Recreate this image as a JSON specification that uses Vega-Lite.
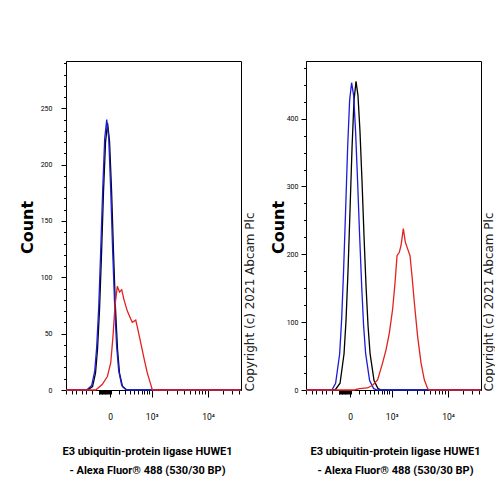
{
  "$schema": "https://vega.github.io/schema/vega-lite/v6.json",
  "padding": {"left": 18, "top": 58, "right": 0, "bottom": 0},
  "background": "white",
  "bounds": "flush",
  "spacing": 65,
  "config": {
    "view": {"stroke": "black", "strokeWidth": 1},
    "axis": {"grid": false, "domainColor": "black", "tickColor": "black", "labelColor": "black", "titleColor": "black", "labelOverlap": false, "labelFlush": false}
  },
  "datasets": {
    "d": [
      {"p": "L", "s": "k", "x": -1115, "y": 0}, {"p": "L", "s": "k", "x": -350, "y": 0}, {"p": "L", "s": "k", "x": -247, "y": 3}, {"p": "L", "s": "k", "x": -193, "y": 15}, {"p": "L", "s": "k", "x": -160, "y": 36}, {"p": "L", "s": "k", "x": -129, "y": 71}, {"p": "L", "s": "k", "x": -100, "y": 121}, {"p": "L", "s": "k", "x": -74, "y": 176}, {"p": "L", "s": "k", "x": -49, "y": 220}, {"p": "L", "s": "k", "x": -26, "y": 237}, {"p": "L", "s": "k", "x": -5, "y": 221}, {"p": "L", "s": "k", "x": 16, "y": 177}, {"p": "L", "s": "k", "x": 37.5, "y": 122}, {"p": "L", "s": "k", "x": 61, "y": 72}, {"p": "L", "s": "k", "x": 87, "y": 36}, {"p": "L", "s": "k", "x": 114, "y": 15}, {"p": "L", "s": "k", "x": 160, "y": 3}, {"p": "L", "s": "k", "x": 230, "y": 0}, {"p": "L", "s": "k", "x": 34750, "y": 0},
      {"p": "L", "s": "b", "x": -1115, "y": 0}, {"p": "L", "s": "b", "x": -372, "y": 0}, {"p": "L", "s": "b", "x": -263, "y": 4}, {"p": "L", "s": "b", "x": -206, "y": 17}, {"p": "L", "s": "b", "x": -173, "y": 38}, {"p": "L", "s": "b", "x": -141, "y": 73}, {"p": "L", "s": "b", "x": -112, "y": 123}, {"p": "L", "s": "b", "x": -84, "y": 178}, {"p": "L", "s": "b", "x": -59, "y": 223}, {"p": "L", "s": "b", "x": -35, "y": 240}, {"p": "L", "s": "b", "x": -13, "y": 223}, {"p": "L", "s": "b", "x": 7, "y": 178}, {"p": "L", "s": "b", "x": 28, "y": 123}, {"p": "L", "s": "b", "x": 52, "y": 73}, {"p": "L", "s": "b", "x": 76, "y": 38}, {"p": "L", "s": "b", "x": 103, "y": 17}, {"p": "L", "s": "b", "x": 147, "y": 4}, {"p": "L", "s": "b", "x": 232, "y": 0}, {"p": "L", "s": "b", "x": 34750, "y": 0},
      {"p": "L", "s": "r", "x": -1115, "y": 0}, {"p": "L", "s": "r", "x": -189, "y": 0}, {"p": "L", "s": "r", "x": -89, "y": 5}, {"p": "L", "s": "r", "x": -28, "y": 12}, {"p": "L", "s": "r", "x": 7, "y": 24}, {"p": "L", "s": "r", "x": 32, "y": 48}, {"p": "L", "s": "r", "x": 55, "y": 75}, {"p": "L", "s": "r", "x": 84, "y": 92}, {"p": "L", "s": "r", "x": 114, "y": 87}, {"p": "L", "s": "r", "x": 147, "y": 89}, {"p": "L", "s": "r", "x": 184, "y": 80}, {"p": "L", "s": "r", "x": 244, "y": 70}, {"p": "L", "s": "r", "x": 313, "y": 63}, {"p": "L", "s": "r", "x": 348, "y": 60}, {"p": "L", "s": "r", "x": 432, "y": 62}, {"p": "L", "s": "r", "x": 474, "y": 56}, {"p": "L", "s": "r", "x": 574, "y": 42}, {"p": "L", "s": "r", "x": 685, "y": 28}, {"p": "L", "s": "r", "x": 810, "y": 15}, {"p": "L", "s": "r", "x": 955, "y": 5}, {"p": "L", "s": "r", "x": 1029, "y": 0}, {"p": "L", "s": "r", "x": 34750, "y": 0},
      {"p": "R", "s": "k", "x": -1115, "y": 0}, {"p": "R", "s": "k", "x": -200, "y": 0}, {"p": "R", "s": "k", "x": -121, "y": 10}, {"p": "R", "s": "k", "x": -67.5, "y": 53}, {"p": "R", "s": "k", "x": -43, "y": 103}, {"p": "R", "s": "k", "x": -21, "y": 175}, {"p": "R", "s": "k", "x": 0, "y": 265}, {"p": "R", "s": "k", "x": 21, "y": 357}, {"p": "R", "s": "k", "x": 43, "y": 427}, {"p": "R", "s": "k", "x": 67.5, "y": 455}, {"p": "R", "s": "k", "x": 93, "y": 434}, {"p": "R", "s": "k", "x": 121, "y": 381}, {"p": "R", "s": "k", "x": 152, "y": 307}, {"p": "R", "s": "k", "x": 184, "y": 227}, {"p": "R", "s": "k", "x": 219, "y": 154}, {"p": "R", "s": "k", "x": 257, "y": 95}, {"p": "R", "s": "k", "x": 298, "y": 54}, {"p": "R", "s": "k", "x": 389, "y": 14}, {"p": "R", "s": "k", "x": 494, "y": 2}, {"p": "R", "s": "k", "x": 600, "y": 0}, {"p": "R", "s": "k", "x": 34750, "y": 0},
      {"p": "R", "s": "b", "x": -1115, "y": 0}, {"p": "R", "s": "b", "x": -260, "y": 0}, {"p": "R", "s": "b", "x": -191, "y": 10}, {"p": "R", "s": "b", "x": -127, "y": 53}, {"p": "R", "s": "b", "x": -99, "y": 103}, {"p": "R", "s": "b", "x": -73, "y": 175}, {"p": "R", "s": "b", "x": -48, "y": 265}, {"p": "R", "s": "b", "x": -25, "y": 357}, {"p": "R", "s": "b", "x": -4, "y": 427}, {"p": "R", "s": "b", "x": 16.5, "y": 453}, {"p": "R", "s": "b", "x": 39, "y": 434}, {"p": "R", "s": "b", "x": 62, "y": 381}, {"p": "R", "s": "b", "x": 88, "y": 307}, {"p": "R", "s": "b", "x": 116, "y": 227}, {"p": "R", "s": "b", "x": 146, "y": 154}, {"p": "R", "s": "b", "x": 177, "y": 95}, {"p": "R", "s": "b", "x": 212, "y": 54}, {"p": "R", "s": "b", "x": 289, "y": 14}, {"p": "R", "s": "b", "x": 379, "y": 2}, {"p": "R", "s": "b", "x": 480, "y": 0}, {"p": "R", "s": "b", "x": 34750, "y": 0},
      {"p": "R", "s": "r", "x": -1115, "y": 0}, {"p": "R", "s": "r", "x": 47, "y": 0}, {"p": "R", "s": "r", "x": 111, "y": 2}, {"p": "R", "s": "r", "x": 243, "y": 3}, {"p": "R", "s": "r", "x": 355, "y": 7}, {"p": "R", "s": "r", "x": 482, "y": 15}, {"p": "R", "s": "r", "x": 636, "y": 40}, {"p": "R", "s": "r", "x": 758, "y": 59}, {"p": "R", "s": "r", "x": 893, "y": 84}, {"p": "R", "s": "r", "x": 1044, "y": 119}, {"p": "R", "s": "r", "x": 1167, "y": 158}, {"p": "R", "s": "r", "x": 1278, "y": 198}, {"p": "R", "s": "r", "x": 1415, "y": 203}, {"p": "R", "s": "r", "x": 1524, "y": 213}, {"p": "R", "s": "r", "x": 1686, "y": 238}, {"p": "R", "s": "r", "x": 1836, "y": 218}, {"p": "R", "s": "r", "x": 2025, "y": 208}, {"p": "R", "s": "r", "x": 2238, "y": 198}, {"p": "R", "s": "r", "x": 2430, "y": 168}, {"p": "R", "s": "r", "x": 2673, "y": 129}, {"p": "R", "s": "r", "x": 3056, "y": 79}, {"p": "R", "s": "r", "x": 3502, "y": 40}, {"p": "R", "s": "r", "x": 3996, "y": 15}, {"p": "R", "s": "r", "x": 4555, "y": 2}, {"p": "R", "s": "r", "x": 4868, "y": 0}, {"p": "R", "s": "r", "x": 34750, "y": 0}
    ]
  },
  "hconcat": [
    {
      "width": 175, "height": 329,
      "data": {"name": "d"},
      "transform": [{"filter": "datum.p === 'L'"}],
      "encoding": {
        "x": {"field": "x", "type": "quantitative", "scale": {"type": "symlog", "constant": 270, "domain": [-1115, 34750], "nice": false, "zero": false},
          "axis": {"values": [-1100, -850, -670, -500, -380, -260, -140, -130, -120, -110, -100, -90, -80, -70, -60, -50, -40, -30, -20, -10, 0, 10, 100, 200, 300, 400, 500, 600, 700, 800, 900, 1000, 2000, 3000, 4000, 5000, 6000, 7000, 8000, 9000, 10000, 18000, 25000, 32000],
            "labelExpr": "datum.value == 0 ? '0' : datum.value == 1000 ? '10³' : datum.value == 10000 ? '10⁴' : ''",
            "tickSize": {"condition": {"test": "datum.value == 0 || datum.value == 1000 || datum.value == 10000", "value": 7}, "value": 4},
            "labelPadding": 15, "labelFont": "Roboto", "labelFontSize": 8.5,
            "title": ["E3 ubiquitin-protein ligase HUWE1", "- Alexa Fluor® 488 (530/30 BP)"],
            "titleFont": "Roboto", "titleFontSize": 11, "titleFontWeight": "bold", "titleLineHeight": 19,
            "titleBaseline": "top", "titleY": 55, "titleX": 81, "titleAlign": "center"}}
      },
      "layer": [
        {
          "transform": [{"filter": "datum.s === 'k'"}],
          "mark": {"type": "line", "color": "black", "strokeWidth": 1.3},
          "encoding": {
            "y": {"field": "y", "type": "quantitative", "scale": {"domain": [0, 292], "nice": false, "zero": false},
              "axis": {"orient": "left", "values": [0, 10, 20, 30, 40, 50, 60, 70, 80, 90, 100, 110, 120, 130, 140, 150, 160, 170, 180, 190, 200, 210, 220, 230, 240, 250, 260, 270, 280, 290],
                "labelExpr": "datum.value % 50 == 0 ? datum.label : ''",
                "tickSize": {"condition": {"test": "datum.value % 50 == 0", "value": 5}, "value": 2.5},
                "labelPadding": 9, "labelFont": "Roboto", "labelFontSize": 7,
                "title": "Count", "titleFont": "DejaVu Sans", "titleFontSize": 16, "titleFontWeight": "bold",
                "titleAngle": 270, "titleAlign": "center", "titleBaseline": "middle", "titleX": -39, "titleY": 166}}
          }
        },
        {
          "transform": [{"filter": "datum.s === 'b'"}],
          "mark": {"type": "line", "color": "#1c1cd6", "strokeWidth": 1.3},
          "encoding": {
            "y": {"field": "y", "type": "quantitative", "axis": null}
          }
        },
        {
          "transform": [{"filter": "datum.s === 'r'"}],
          "mark": {"type": "line", "color": "#e3211f", "strokeWidth": 1.3},
          "encoding": {
            "y": {"field": "y", "type": "quantitative",
              "axis": {"orient": "right", "title": "Copyright (c) 2021 Abcam Plc", "labels": false, "ticks": false, "domain": false,
                "titleAngle": 270, "titleAlign": "left", "titleBaseline": "middle", "titleX": 8, "titleY": 330,
                "titleFont": "DejaVu Sans", "titleFontSize": 12, "titleFontWeight": "normal", "titleColor": "#222222"}}
          }
        }
      ],
      "resolve": {"axis": {"y": "independent"}}
    },
    {
      "width": 175, "height": 329,
      "data": {"name": "d"},
      "transform": [{"filter": "datum.p === 'R'"}],
      "encoding": {
        "x": {"field": "x", "type": "quantitative", "scale": {"type": "symlog", "constant": 270, "domain": [-1115, 34750], "nice": false, "zero": false},
          "axis": {"values": [-1100, -850, -670, -500, -380, -260, -140, -130, -120, -110, -100, -90, -80, -70, -60, -50, -40, -30, -20, -10, 0, 10, 100, 200, 300, 400, 500, 600, 700, 800, 900, 1000, 2000, 3000, 4000, 5000, 6000, 7000, 8000, 9000, 10000, 18000, 25000, 32000],
            "labelExpr": "datum.value == 0 ? '0' : datum.value == 1000 ? '10³' : datum.value == 10000 ? '10⁴' : ''",
            "tickSize": {"condition": {"test": "datum.value == 0 || datum.value == 1000 || datum.value == 10000", "value": 7}, "value": 4},
            "labelPadding": 15, "labelFont": "Roboto", "labelFontSize": 8.5,
            "title": ["E3 ubiquitin-protein ligase HUWE1", "- Alexa Fluor® 488 (530/30 BP)"],
            "titleFont": "Roboto", "titleFontSize": 11, "titleFontWeight": "bold", "titleLineHeight": 19,
            "titleBaseline": "top", "titleY": 55, "titleX": 89, "titleAlign": "center"}}
      },
      "layer": [
        {
          "transform": [{"filter": "datum.s === 'k'"}],
          "mark": {"type": "line", "color": "black", "strokeWidth": 1.3},
          "encoding": {
            "y": {"field": "y", "type": "quantitative", "scale": {"domain": [0, 485], "nice": false, "zero": false},
              "axis": {"orient": "left", "values": [0, 25, 50, 75, 100, 125, 150, 175, 200, 225, 250, 275, 300, 325, 350, 375, 400, 425, 450, 475],
                "labelExpr": "datum.value % 100 == 0 ? datum.label : ''",
                "tickSize": {"condition": {"test": "datum.value % 100 == 0", "value": 5}, "value": 2.5},
                "labelPadding": 3, "labelFont": "Roboto", "labelFontSize": 7,
                "title": "Count", "titleFont": "DejaVu Sans", "titleFontSize": 16, "titleFontWeight": "bold",
                "titleAngle": 270, "titleAlign": "center", "titleBaseline": "middle", "titleX": -28, "titleY": 166}}
          }
        },
        {
          "transform": [{"filter": "datum.s === 'b'"}],
          "mark": {"type": "line", "color": "#1c1cd6", "strokeWidth": 1.3},
          "encoding": {
            "y": {"field": "y", "type": "quantitative", "axis": null}
          }
        },
        {
          "transform": [{"filter": "datum.s === 'r'"}],
          "mark": {"type": "line", "color": "#e3211f", "strokeWidth": 1.3},
          "encoding": {
            "y": {"field": "y", "type": "quantitative",
              "axis": {"orient": "right", "title": "Copyright (c) 2021 Abcam Plc", "labels": false, "ticks": false, "domain": false,
                "titleAngle": 270, "titleAlign": "left", "titleBaseline": "middle", "titleX": 7, "titleY": 330,
                "titleFont": "DejaVu Sans", "titleFontSize": 12, "titleFontWeight": "normal", "titleColor": "#222222"}}
          }
        }
      ],
      "resolve": {"axis": {"y": "independent"}}
    }
  ]
}
